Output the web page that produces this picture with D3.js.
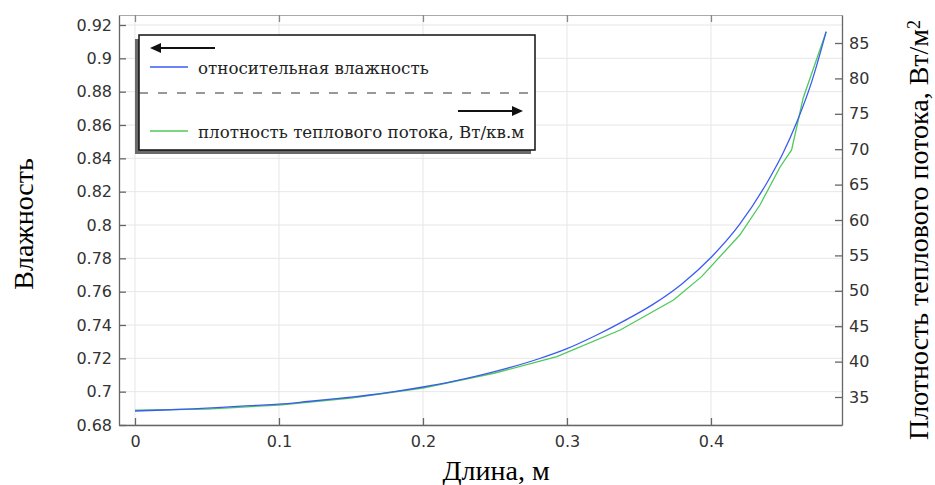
<!DOCTYPE html>
<html lang="ru">
<head>
    <meta charset="UTF-8">
    <title>Влажность и плотность теплового потока</title>
    <style>
        body { margin: 0; background: #fff; }
        #chart { width: 935px; height: 485px; }
        .tick text { font-family: "DejaVu Sans", sans-serif; font-size: 16px; fill: #333; }
        .axis-title { font-family: "Liberation Serif", "Times New Roman", serif; font-size: 28px; fill: #000; }
        .legend-text { font-family: "DejaVu Serif", serif; font-size: 16.7px; fill: #222; }
    </style>
    <script src="https://d3js.org/d3.v7.min.js"></script>
</head>
<body>
<div id="chart"></div>
<script>
    // Length along the channel, m (humidity curve)
    const lengthH = [0, 0.02, 0.04, 0.06, 0.08, 0.10, 0.12, 0.14, 0.16, 0.18, 0.20, 0.22, 0.24,
        0.26, 0.28, 0.30, 0.32, 0.34, 0.36, 0.38, 0.40, 0.42, 0.44, 0.45, 0.46, 0.47, 0.48];
    // Relative humidity (left axis)
    const humidity = [0.6884, 0.6890, 0.6897, 0.6906, 0.6916, 0.6925, 0.6941, 0.6958, 0.6977, 0.7000,
        0.7028, 0.7060, 0.7099, 0.7144, 0.7196, 0.7258, 0.7337, 0.7426, 0.7525, 0.7648, 0.7805,
        0.8005, 0.8270, 0.8430, 0.8625, 0.8860, 0.9160];

    // Length, m (heat flux curve, coarser sampling)
    const lengthQ = [0, 0.05, 0.10, 0.15, 0.20, 0.25, 0.293, 0.337, 0.374, 0.3935, 0.42, 0.434,
        0.448, 0.456, 0.464, 0.48];
    // Heat flux density, W/m2 (right axis)
    const heatFlux = [33.16, 33.30, 33.87, 34.86, 36.27, 38.39, 40.69, 44.46, 48.70, 52.0, 57.88, 62.12,
        67.49, 69.89, 77.19, 86.6];

    const xTicks = [0, 0.1, 0.2, 0.3, 0.4];
    const leftTicks = [0.68, 0.7, 0.72, 0.74, 0.76, 0.78, 0.8, 0.82, 0.84, 0.86, 0.88, 0.9, 0.92];
    const rightTicks = [35, 40, 45, 50, 55, 60, 65, 70, 75, 80, 85];

    const legendNames = ["относительная влажность", "плотность теплового потока, Вт/кв.м"];

    const margin = { top: 15, right: 93, bottom: 60, left: 119 };
    const width = 935 - margin.left - margin.right;
    const height = 425 - margin.top;

    const svg = d3.select("#chart").append("svg")
        .attr("width", 935)
        .attr("height", 485);

    const g = svg.append("g")
        .attr("transform", `translate(${margin.left},${margin.top})`);

    const x = d3.scaleLinear().domain([-0.0111, 0.491]).range([0, width]);
    const yL = d3.scaleLinear().domain([0.68, 0.926]).range([height, 0]);
    const yR = d3.scaleLinear().domain([31.045, 88.955]).range([height, 0]);

    // Grid
    g.append("g").selectAll("line.v")
        .data(xTicks).enter().append("line")
        .attr("x1", d => x(d)).attr("x2", d => x(d))
        .attr("y1", 0).attr("y2", height)
        .attr("stroke", "#e6e6e6").attr("stroke-width", 1);
    g.append("g").selectAll("line.h")
        .data(leftTicks).enter().append("line")
        .attr("x1", 0).attr("x2", width)
        .attr("y1", d => yL(d)).attr("y2", d => yL(d))
        .attr("stroke", "#e6e6e6").attr("stroke-width", 1);

    // Axes (ticks point inward)
    const fmt = d => String(+d.toFixed(2));
    const axBottom = g.append("g")
        .attr("transform", `translate(0,${height})`)
        .call(d3.axisBottom(x).tickValues(xTicks).tickFormat(fmt).tickSize(-7).tickPadding(11).tickSizeOuter(0));
    const axTop = g.append("g")
        .call(d3.axisTop(x).tickValues(xTicks).tickFormat("").tickSize(-7).tickSizeOuter(0));
    const axLeft = g.append("g")
        .call(d3.axisLeft(yL).tickValues(leftTicks).tickFormat(fmt).tickSize(-7).tickPadding(7).tickSizeOuter(0));
    const axRight = g.append("g")
        .attr("transform", `translate(${width},0)`)
        .call(d3.axisRight(yR).tickValues(rightTicks).tickSize(-7).tickPadding(7).tickSizeOuter(0));

    [axBottom, axLeft, axRight].forEach(a => {
        a.select(".domain").attr("stroke", "#666").attr("stroke-width", 1.3);
        a.selectAll(".tick line").attr("stroke", "#666").attr("stroke-width", 1.3);
    });
    axTop.select(".domain").attr("stroke", "#aaa");
    axTop.selectAll(".tick line").attr("stroke", "#888").attr("stroke-width", 1.3);

    // Curves
    const lineH = d3.line().curve(d3.curveMonotoneX).x((d, i) => x(lengthH[i])).y(d => yL(d));
    const lineQ = d3.line().x((d, i) => x(lengthQ[i])).y(d => yR(d));

    g.append("path").datum(heatFlux)
        .attr("fill", "none").attr("stroke", "#4ec95a").attr("stroke-width", 1.3)
        .attr("d", lineQ);
    g.append("path").datum(humidity)
        .attr("fill", "none").attr("stroke", "#3b5cf2").attr("stroke-width", 1.3)
        .attr("d", lineH);

    // Legend
    const lg = svg.append("g").attr("transform", "translate(139,35)");
    const lw = 396, lh = 115;
    lg.append("rect").attr("x", -4).attr("y", 4).attr("width", lw).attr("height", lh).attr("fill", "#6a6a6a");
    lg.append("rect").attr("width", lw).attr("height", lh)
        .attr("fill", "#fff").attr("stroke", "#111").attr("stroke-width", 1.5);

    const arrow = (x1, x2, y) => {
        const dir = Math.sign(x2 - x1);
        lg.append("line").attr("x1", x1).attr("x2", x2 - dir * 8).attr("y1", y).attr("y2", y)
            .attr("stroke", "#111").attr("stroke-width", 1.8);
        lg.append("path")
            .attr("d", `M${x2},${y} L${x2 - dir * 11},${y - 5} L${x2 - dir * 11},${y + 5} Z`)
            .attr("fill", "#111");
    };
    arrow(76, 11, 13);
    arrow(319, 384, 76);

    lg.append("line").attr("x1", 11).attr("x2", 49).attr("y1", 32).attr("y2", 32)
        .attr("stroke", "#3b5cf2").attr("stroke-width", 1.5);
    lg.append("text").attr("class", "legend-text").attr("x", 59).attr("y", 39).text(legendNames[0]);

    lg.append("line").attr("x1", 0).attr("x2", lw).attr("y1", 58).attr("y2", 58)
        .attr("stroke", "#333").attr("stroke-width", 1.2).attr("stroke-dasharray", "9,10");

    lg.append("line").attr("x1", 11).attr("x2", 49).attr("y1", 96).attr("y2", 96)
        .attr("stroke", "#4ec95a").attr("stroke-width", 1.5);
    lg.append("text").attr("class", "legend-text").attr("x", 59).attr("y", 103).text(legendNames[1]);

    // Axis titles
    svg.append("text").attr("class", "axis-title")
        .attr("x", 496).attr("y", 480).attr("text-anchor", "middle")
        .text("Длина, м");

    svg.append("text").attr("class", "axis-title")
        .attr("transform", "translate(33,224) rotate(-90)")
        .attr("text-anchor", "middle")
        .text("Влажность");

    const rt = svg.append("text").attr("class", "axis-title")
        .attr("transform", "translate(928,230) rotate(-90)")
        .attr("text-anchor", "middle");
    rt.append("tspan").text("Плотность теплового потока, Вт/м");
    rt.append("tspan").attr("dy", "-0.45em").style("font-size", "18px").text("2");
</script>
</body>
</html>
